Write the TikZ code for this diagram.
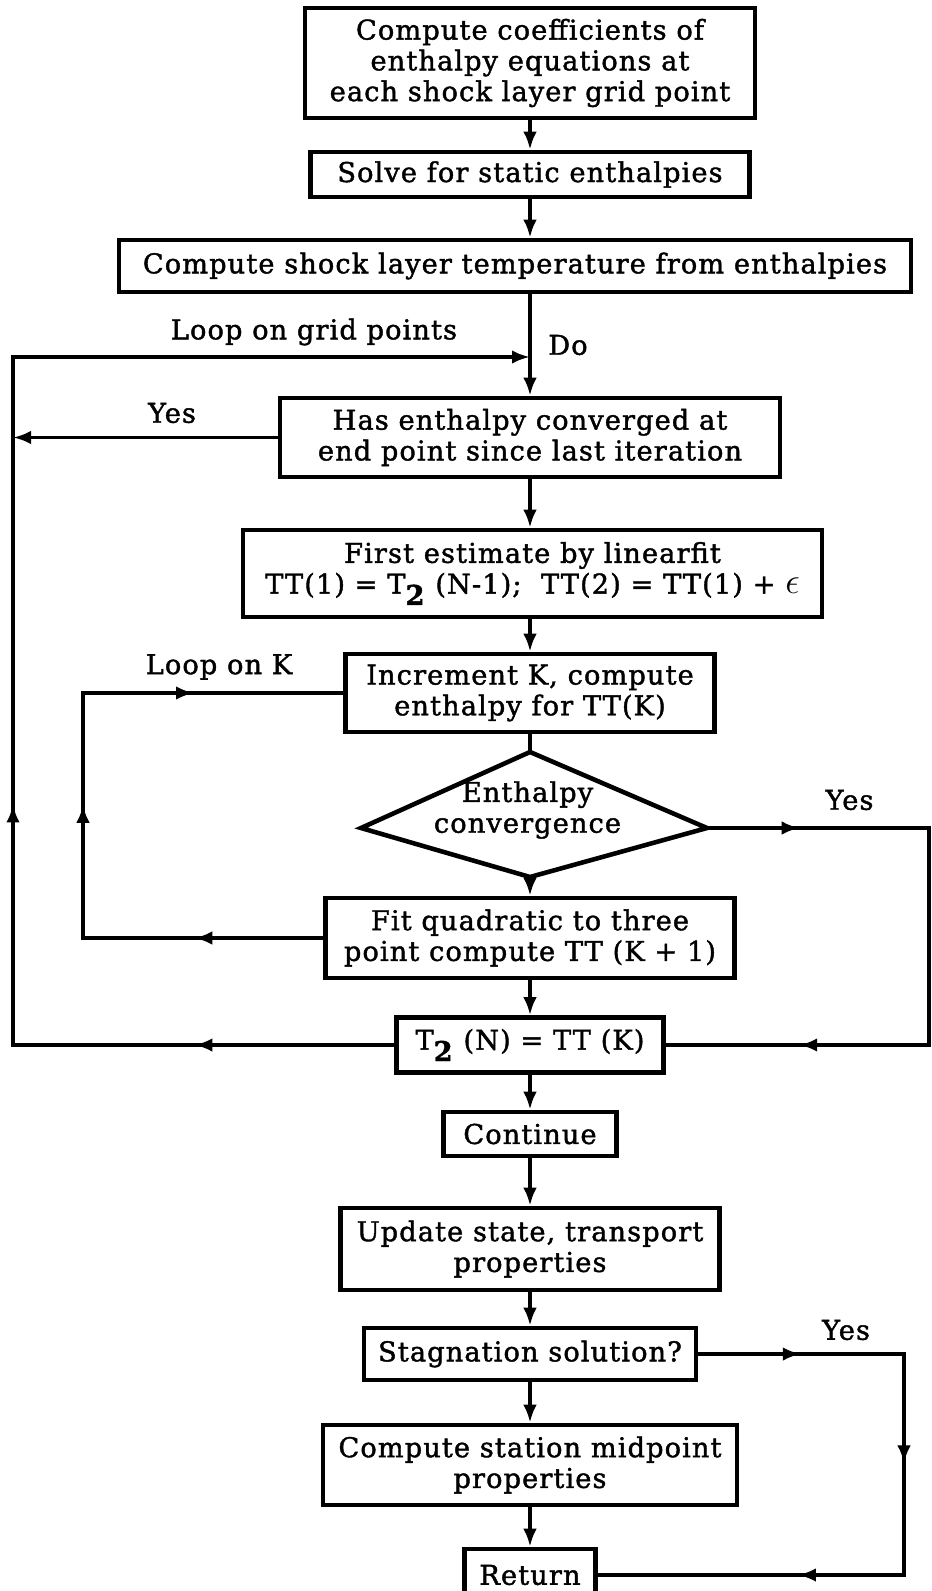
\documentclass[tikz,border=0pt]{standalone}
\usepackage{fontspec}
\setmainfont{DejaVu Serif}[LetterSpace=4,FakeBold=1.5]
\usetikzlibrary{arrows.meta,decorations.markings}
\newcommand{\lowsub}[1]{\raisebox{-0.8ex}{\textbf{#1}}}

\begin{document}
\begin{tikzpicture}[>={Latex[length=3.6mm,width=2.7mm]}, line width=2pt,
	box/.style={draw, line width=2.6pt, align=center, inner sep=2pt, font=\fontsize{15.5}{17.5}\selectfont},
	txt/.style={align=center, font=\fontsize{15.5}{17.5}\selectfont},
	arr/.style={postaction={decorate,decoration={markings,mark=at position #1 with {\arrow{>}}}}}]
	\useasboundingbox (0,0) rectangle (18.62,-31.82);

		\node[box, minimum width=9cm, minimum height=2.2cm] (b1) at (10.6,-1.26) {Compute coefficients of\\enthalpy equations at\\each shock layer grid point};
		\node[box, minimum width=8.78cm, minimum height=0.9cm] (b2) at (10.6,-3.49) {Solve for static enthalpies};
		\node[box, minimum width=15.84cm, minimum height=1.04cm] (b3) at (10.3,-5.32) {Compute shock layer temperature from enthalpies};
		\node[box, minimum width=10cm, minimum height=1.58cm] (b4) at (10.6,-8.75) {Has enthalpy converged at\\end point since last iteration};
		\node[box, minimum width=11.58cm, minimum height=1.74cm] (b5) at (10.65,-11.47) {First estimate by linearfit\\TT(1) = T\lowsub{2} (N-1);\ \ TT(2) = TT(1) + {\fontsize{21}{21}\selectfont$\epsilon$}};
		\node[box, minimum width=7.38cm, minimum height=1.56cm] (b6) at (10.6,-13.86) {Increment K, compute\\enthalpy for TT(K)};

		\coordinate (dt) at (10.6,-15.04);
		\coordinate (dr) at (14.14,-16.56);
		\coordinate (db) at (10.6,-17.54);
		\coordinate (dl) at (7.22,-16.56);
		\draw[line width=2.6pt] (dt) -- (dr) -- (db) -- (dl) -- cycle;
		\node[txt] (d) at (10.55,-16.2) {Enthalpy\\convergence};

		\node[box, minimum width=8.18cm, minimum height=1.6cm] (b7) at (10.6,-18.76) {Fit quadratic to three\\point compute TT (K + 1)};
		\node[box, minimum width=5.34cm, minimum height=1.1cm] (b8) at (10.6,-20.9) {T\lowsub{2} (N) = TT (K)};
		\node[box, minimum width=3.46cm, minimum height=0.88cm] (b9) at (10.6,-22.68) {Continue};
		\node[box, minimum width=7.58cm, minimum height=1.64cm] (b10) at (10.6,-24.98) {Update state, transport\\properties};
		\node[box, minimum width=6.64cm, minimum height=1.04cm] (b11) at (10.6,-27.08) {Stagnation solution?};
		\node[box, minimum width=8.28cm, minimum height=1.6cm] (b12) at (10.6,-29.3) {Compute station midpoint\\properties};
		\node[box, minimum width=2.62cm, minimum height=1.04cm] (b13) at (10.6,-31.5) {Return};

		\node[txt] (l1) at (6.28,-6.64) {Loop on grid points};
		\node[txt] (l2) at (11.36,-6.9) {Do};
		\node[txt] (l3) at (3.44,-8.26) {Yes};
		\node[txt] (l4) at (4.38,-13.34) {Loop on K};
		\node[txt] (l5) at (16.99,-16.0) {Yes};
		\node[txt] (l6) at (16.92,-26.6) {Yes};

		\coordinate (o1) at (0.26,-20.9);
		\coordinate (o2) at (0.26,-7.14);
		\coordinate (o3) at (10.6,-7.14);
		\coordinate (o4) at (0.26,-8.75);
		\coordinate (k1) at (1.66,-13.86);
		\coordinate (k2) at (1.66,-18.76);
		\coordinate (r1) at (18.58,-16.56);
		\coordinate (r2) at (18.58,-20.9);
		\coordinate (s1) at (18.08,-27.08);
		\coordinate (s2) at (18.08,-31.5);

		\draw[->] (b1) -- (b2);
		\draw[->] (b2) -- (b2 |- b3.north);
		\draw[->] (b3.south -| b4) -- (b4);
		\draw[->] (b4) -- (b4 |- b5.north);
		\draw[->] (b5.south -| b6) -- (b6);
		\draw (b6) -- (dt);
		\draw[->] (db) -- (b7);
		\draw[->] (b7) -- (b8);
		\draw[->] (b8) -- (b9);
		\draw[->] (b9) -- (b10);
		\draw[->] (b10) -- (b11);
		\draw[->] (b11) -- (b12);
		\draw[->] (b12) -- (b13);

		\draw[->, arr=0.126, arr=0.392] (b8) -- (o1) -- (o2) -- (o3);
		\draw[->] (b4) -- (o4);
		\draw[arr=0.173, arr=0.501, arr=0.8] (b7) -- (k2) -- (k1) -- (b6);
		\draw[arr=0.132, arr=0.81] (dr) -- (r1) -- (r2) -- (b8);
		\draw[arr=0.14, arr=0.43, arr=0.727] (b11) -- (s1) -- (s2) -- (b13);

\end{tikzpicture}
\end{document}
